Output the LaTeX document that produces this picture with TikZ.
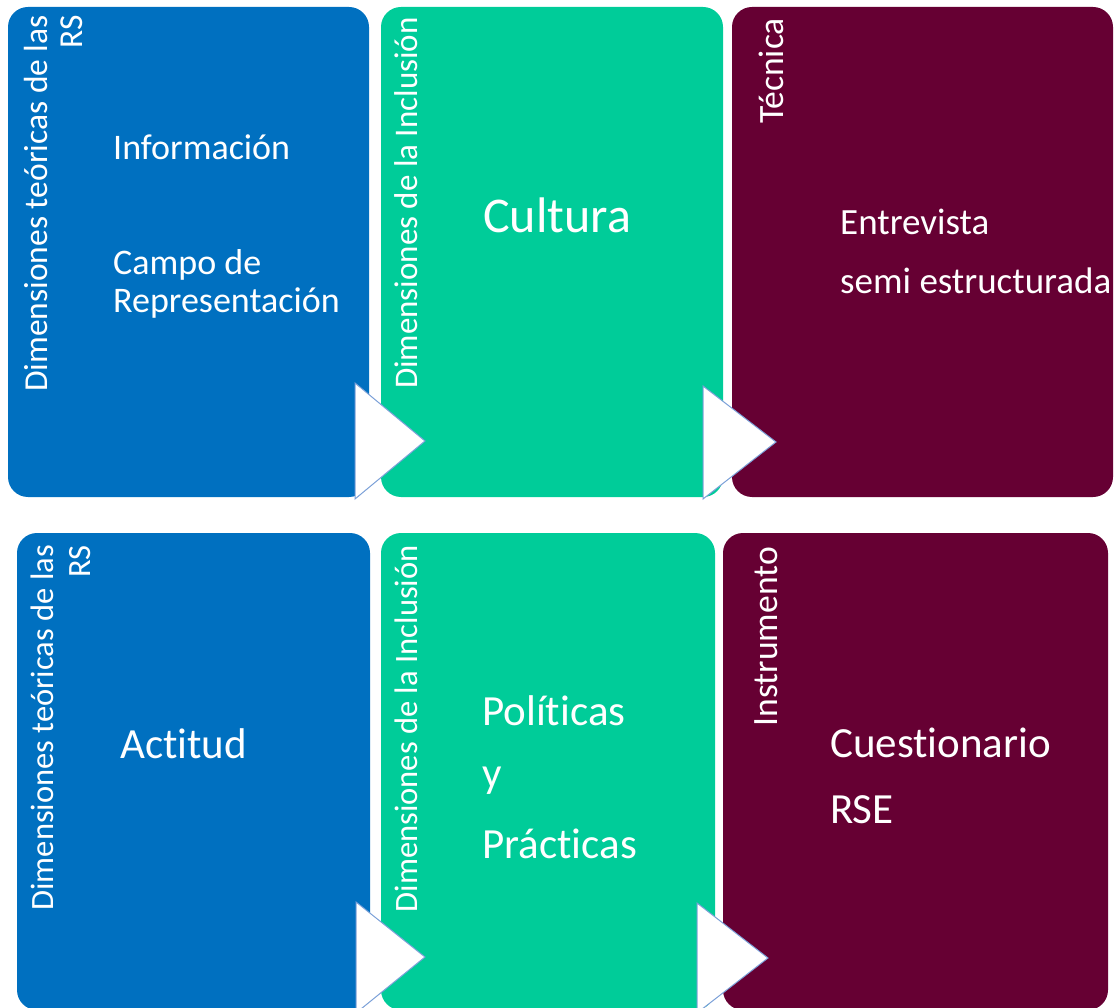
\documentclass[tikz,border=0pt]{standalone}
\usepackage{fontspec}
\setmainfont{Carlito}[Ligatures=CommonOff]
\definecolor{cblue}{HTML}{0070C0}
\definecolor{cgreen}{HTML}{00CC99}
\definecolor{cmaroon}{HTML}{660033}
\definecolor{cedge}{HTML}{7BA0D8}
\tikzset{
  panel/.style={fill=#1, rounded corners=20pt, draw=none},
  vlabel/.style={rotate=90, anchor=base east, inner sep=0pt, text=white, align=right},
  maintext/.style={anchor=base west, inner sep=0pt, text=white},
  chevron/.style={fill=white, draw=cedge, line width=1pt, line join=miter},
}
\begin{document}
\begin{tikzpicture}[x=1pt,y=-1pt]
\useasboundingbox (0,0) rectangle (1114,1008);
\clip (0,0) rectangle (1114,1008);
% panels
\path[panel=cblue]   (8,7)    rectangle (369,497);
\path[panel=cgreen]  (381,7)  rectangle (723,497);
\path[panel=cmaroon] (732,7)  rectangle (1113,497);
\path[panel=cblue]   (17,533) rectangle (370,1010);
\path[panel=cgreen]  (381,533) rectangle (715,1010);
\path[panel=cmaroon] (723,533) rectangle (1108,1010);
% chevrons
\filldraw[chevron] (355,383) -- (425,441) -- (355,499) -- cycle;
\filldraw[chevron] (703,386) -- (776,442) -- (703,499) -- cycle;
\filldraw[chevron] (356,902) -- (425,957) -- (356,1013) -- cycle;
\filldraw[chevron] (697,903) -- (768,958) -- (697,1013) -- cycle;
% vertical labels (base = baseline of the last line)
\node[vlabel, font=\fontsize{33.5}{35}\selectfont] (v1) at (82,15) {Dimensiones teóricas de las\\RS};
\node[vlabel, font=\fontsize{33}{35}\selectfont] (v2) at (417,17) {Dimensiones de la Inclusión};
\node[vlabel, font=\fontsize{35.6}{38}\selectfont] (v3) at (783,18) {Técnica};
\node[vlabel, font=\fontsize{32.5}{37}\selectfont] (v4) at (90,545) {Dimensiones teóricas de las\\RS};
\node[vlabel, font=\fontsize{32.6}{35}\selectfont] (v5) at (417,545) {Dimensiones de la Inclusión};
\node[vlabel, font=\fontsize{35.6}{38}\selectfont] (v6) at (777,547) {Instrumento};
% main texts
\node[maintext, font=\fontsize{36}{38}\selectfont] (t1) at (113,160) {Información};
\node[maintext, font=\fontsize{36}{38}\selectfont] (t2) at (113,275) {Campo de};
\node[maintext, font=\fontsize{36}{38}\selectfont] (t3) at (113,313) {Representación};
\node[maintext, font=\fontsize{50}{52}\selectfont] (t4) at (483,233) {Cultura};
\node[maintext, font=\fontsize{37}{39}\selectfont] (t5) at (840,235) {Entrevista};
\node[maintext, font=\fontsize{37}{39}\selectfont] (t6) at (840,294) {semi estructurada};
\node[maintext, font=\fontsize{43}{45}\selectfont] (t7) at (120,758) {Actitud};
\node[maintext, font=\fontsize{43}{45}\selectfont] (t8) at (482,725) {Políticas};
\node[maintext, font=\fontsize{43}{45}\selectfont] (t9) at (482,787) {y};
\node[maintext, font=\fontsize{43}{45}\selectfont] (t10) at (482,858) {Prácticas};
\node[maintext, font=\fontsize{43}{45}\selectfont] (t11) at (830,757) {Cuestionario};
\node[maintext, font=\fontsize{43}{45}\selectfont] (t12) at (830,823) {RSE};
\end{tikzpicture}
\end{document}
